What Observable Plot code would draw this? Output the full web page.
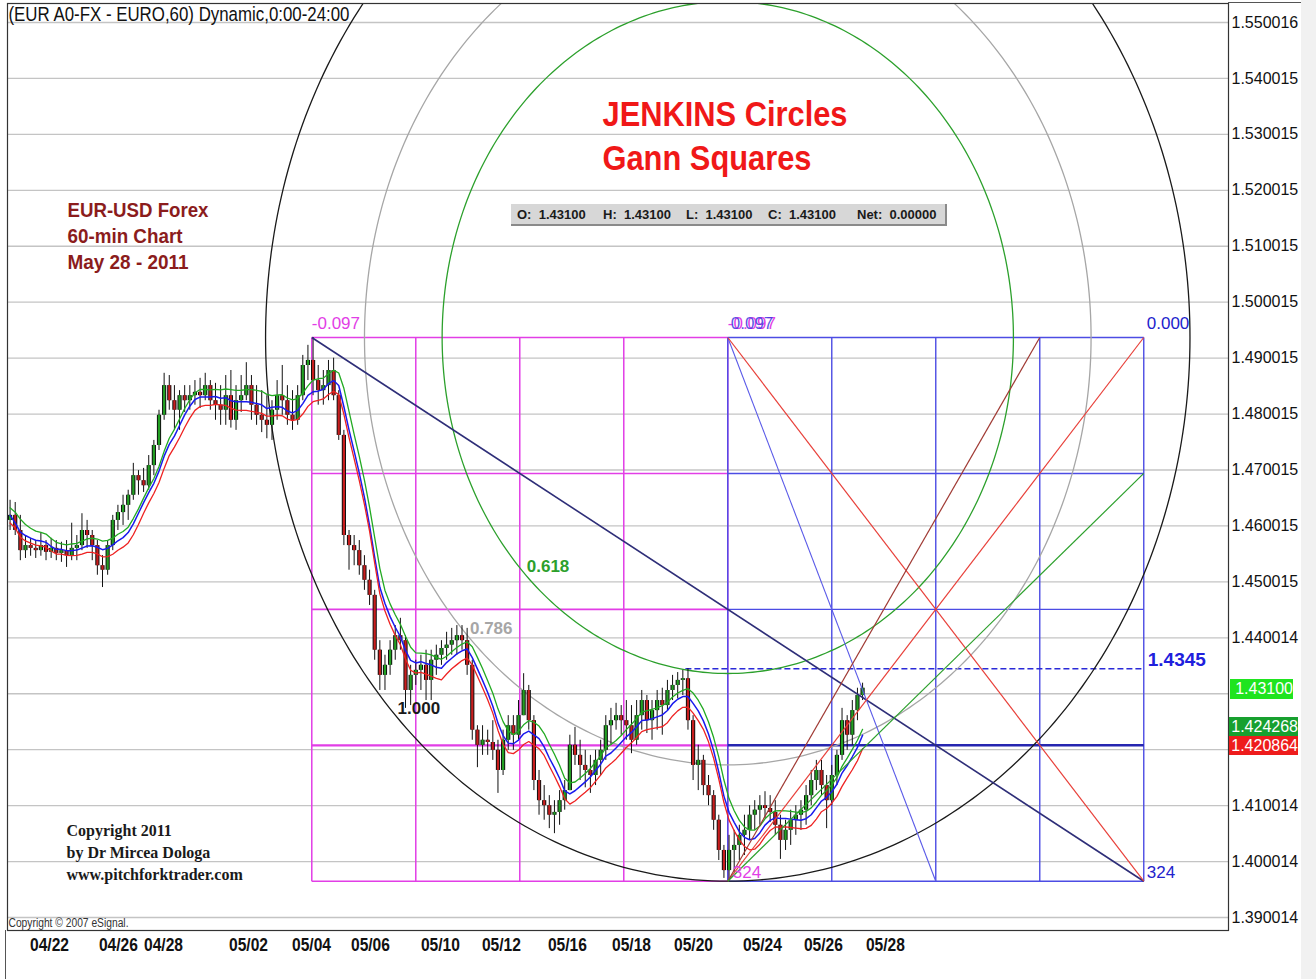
<!DOCTYPE html>
<html><head><meta charset="utf-8">
<script src="https://cdn.jsdelivr.net/npm/d3@7"></script>
<script src="https://cdn.jsdelivr.net/npm/@observablehq/plot@0.6"></script>
<style>
body{margin:0;background:#fff;}
#wrap{position:relative;width:1316px;height:979px;overflow:hidden;background:#fff;}
#wrap svg{position:absolute;left:0;top:0;}
.ov{position:absolute;font-family:"Liberation Sans",Arial,sans-serif;white-space:pre;}
</style></head><body><div id="wrap"></div>
<script>
// ---------- DATA ----------
// 4-hour candles of EUR/USD, 04/21 .. 05/27 2011
const candleHigh = [1.4646,1.4642,1.4619,1.4583,1.4578,1.4574,1.4588,1.4574,1.4578,1.4574,1.4571,1.4574,1.4605,1.4583,1.4622,1.4610,1.4592,1.4574,1.4547,1.4574,
1.4619,1.4637,1.4655,1.4664,1.4712,1.4699,1.4703,1.4726,1.4753,1.4807,1.4873,1.4869,1.4851,1.4842,1.4851,1.4851,1.4860,1.4864,1.4873,1.4860,
1.4855,1.4851,1.4869,1.4878,1.4851,1.4869,1.4892,1.4869,1.4851,1.4842,1.4833,1.4824,1.4860,1.4887,1.4851,1.4842,1.4851,1.4905,1.4923,1.4937,
1.4887,1.4878,1.4896,1.4900,1.4842,1.4771,1.4592,1.4583,1.4574,1.4547,1.4521,1.4485,1.4395,1.4369,1.4395,1.4422,1.4435,1.4404,1.4351,1.4360,
1.4369,1.4378,1.4378,1.4387,1.4395,1.4410,1.4417,1.4422,1.4422,1.4417,1.4360,1.4243,1.4243,1.4235,1.4252,1.4217,1.4235,1.4261,1.4261,1.4288,
1.4336,1.4315,1.4261,1.4163,1.4136,1.4118,1.4109,1.4127,1.4145,1.4226,1.4240,1.4217,1.4199,1.4190,1.4199,1.4217,1.4261,1.4274,1.4283,1.4279,
1.4288,1.4279,1.4288,1.4306,1.4297,1.4288,1.4306,1.4310,1.4324,1.4333,1.4338,1.4342,1.4345,1.4261,1.4208,1.4190,1.4154,1.4127,1.4083,1.4029,
1.4047,1.4056,1.4065,1.4083,1.4100,1.4109,1.4118,1.4125,1.4118,1.4109,1.4083,1.4074,1.4092,1.4100,1.4109,1.4136,1.4163,1.4181,1.4181,1.4154,
1.4172,1.4199,1.4274,1.4261,1.4288,1.4310,1.4319];
const candleLow = [1.4592,1.4583,1.4538,1.4542,1.4546,1.4542,1.4546,1.4538,1.4542,1.4538,1.4535,1.4526,1.4538,1.4538,1.4556,1.4560,1.4538,1.4512,1.4490,1.4512,
1.4556,1.4592,1.4601,1.4610,1.4646,1.4655,1.4660,1.4664,1.4690,1.4735,1.4789,1.4807,1.4771,1.4771,1.4803,1.4807,1.4816,1.4810,1.4824,1.4807,
1.4789,1.4780,1.4780,1.4775,1.4771,1.4803,1.4824,1.4789,1.4780,1.4767,1.4756,1.4753,1.4789,1.4798,1.4780,1.4771,1.4780,1.4824,1.4860,1.4833,
1.4816,1.4816,1.4824,1.4824,1.4753,1.4565,1.4521,1.4529,1.4512,1.4485,1.4458,1.4360,1.4306,1.4306,1.4333,1.4360,1.4378,1.4274,1.4279,1.4315,
1.4306,1.4288,1.4288,1.4333,1.4351,1.4360,1.4369,1.4369,1.4378,1.4333,1.4217,1.4168,1.4190,1.4190,1.4181,1.4122,1.4154,1.4199,1.4199,1.4217,
1.4261,1.4235,1.4127,1.4083,1.4074,1.4059,1.4050,1.4065,1.4092,1.4127,1.4172,1.4145,1.4132,1.4122,1.4136,1.4154,1.4181,1.4208,1.4235,1.4226,
1.4217,1.4193,1.4208,1.4235,1.4229,1.4217,1.4235,1.4226,1.4270,1.4288,1.4291,1.4297,1.4235,1.4145,1.4127,1.4118,1.4100,1.4056,1.4002,1.3970,
1.3965,1.3981,1.4002,1.4011,1.4038,1.4056,1.4065,1.4077,1.4070,1.4047,1.4004,1.4020,1.4029,1.4047,1.4056,1.4065,1.4100,1.4127,1.4118,1.4059,
1.4100,1.4136,1.4181,1.4199,1.4208,1.4252,1.4288];
const candleClose = [1.4619,1.4592,1.4556,1.4565,1.4560,1.4556,1.4565,1.4553,1.4560,1.4551,1.4556,1.4547,1.4560,1.4565,1.4592,1.4583,1.4565,1.4529,1.4521,1.4565,
1.4610,1.4624,1.4637,1.4655,1.4690,1.4681,1.4672,1.4708,1.4744,1.4798,1.4851,1.4824,1.4807,1.4833,1.4824,1.4833,1.4839,1.4833,1.4851,1.4824,
1.4816,1.4807,1.4833,1.4789,1.4824,1.4833,1.4851,1.4816,1.4798,1.4789,1.4780,1.4807,1.4833,1.4824,1.4798,1.4789,1.4833,1.4887,1.4896,1.4860,
1.4842,1.4851,1.4878,1.4833,1.4762,1.4583,1.4565,1.4556,1.4529,1.4503,1.4476,1.4378,1.4333,1.4351,1.4378,1.4404,1.4395,1.4306,1.4333,1.4342,
1.4351,1.4324,1.4360,1.4369,1.4381,1.4387,1.4395,1.4404,1.4395,1.4351,1.4235,1.4208,1.4217,1.4213,1.4199,1.4163,1.4217,1.4243,1.4226,1.4261,
1.4306,1.4252,1.4145,1.4109,1.4100,1.4083,1.4088,1.4109,1.4127,1.4208,1.4190,1.4172,1.4163,1.4154,1.4181,1.4199,1.4243,1.4252,1.4261,1.4252,
1.4243,1.4217,1.4261,1.4288,1.4252,1.4270,1.4288,1.4279,1.4306,1.4315,1.4324,1.4327,1.4252,1.4172,1.4181,1.4136,1.4118,1.4074,1.4020,1.3984,
1.4020,1.4029,1.4047,1.4056,1.4083,1.4092,1.4100,1.4095,1.4088,1.4065,1.4038,1.4056,1.4074,1.4083,1.4092,1.4118,1.4145,1.4163,1.4136,1.4109,
1.4154,1.4190,1.4252,1.4226,1.4270,1.4297,1.4310];
const firstOpen = 1.4610;
const hoursPerCandle = 4;

// time axis (hour-bar positions of the date labels)
const dateLabels = ["04/22","04/26","04/28","05/02","05/04","05/06","05/10","05/12","05/16","05/18","05/20","05/24","05/26","05/28"];
const dateBars   = [32.7, 86.4, 121.5, 187.7, 236.8, 282.7, 337.2, 384.7, 436.1, 486.0, 534.3, 588.0, 635.5, 683.8];

// price axis
const priceTicks  = [1.550016,1.540015,1.530015,1.520015,1.510015,1.500015,1.490015,1.480015,1.470015,1.460015,1.450015,1.440014,1.430014,1.420014,1.410014,1.400014,1.390014];
const priceLabels = ["1.550016","1.540015","1.530015","1.520015","1.510015","1.500015","1.490015","1.480015","1.470015","1.460015","1.450015","1.440014","","","1.410014","1.400014","1.390014"];

// last-value tags on the price axis
const lastLabels = ["1.43100","1.424268","1.420864"];
const lastValues = [1.431, 1.424268, 1.420864];
const lastColors = ["#1fe41f","#17a02f","#ee1c1c"];

// Gann squares & Jenkins circles
const gannStartBar = 237, gannSideBars = 324, gannHigh = 1.4937, gannLow = 1.3965;
const circleRadiusBars = 360;
const fibRatios = [1, 0.786, 0.618];
const fibLabels = ["1.000","0.786","0.618"];
const fibColors = ["#1a1a1a","#a6a6a6","#2ca02c"];
const targetLevel = 1.4345, targetStartBar = 528;

const ohlcItems = ["O:  1.43100","H:  1.43100","L:  1.43100","C:  1.43100","Net:  0.00000"];

// ---------- BUILD ----------
const W = 1316, H = 979, mL = 7, mR = 88, mT = 3, mB = 49;
const xDomain = [0, 951];
const yDomain = [1.38769, 1.55341];
const SANS = "'Liberation Sans',Arial,sans-serif";
const SERIF = "'Liberation Serif','Times New Roman',serif";

const candles = candleClose.map((c, i) => ({
  bar: i * hoursPerCandle + hoursPerCandle / 2,
  open: i === 0 ? firstOpen : candleClose[i - 1],
  high: candleHigh[i], low: candleLow[i], close: c
}));

const range = gannHigh - gannLow;
const s1 = gannStartBar, s2 = gannStartBar + gannSideBars, s3 = gannStartBar + 2 * gannSideBars;
const q = [0, 0.25, 0.5, 0.75, 1];
const magV = q.map(f => ({x1: s1 + f * gannSideBars, x2: s1 + f * gannSideBars, y1: gannLow, y2: gannHigh}));
const bluV = q.map(f => ({x1: s2 + f * gannSideBars, x2: s2 + f * gannSideBars, y1: gannLow, y2: gannHigh}));
const magH = q.map(f => ({x1: s1, x2: s2, y1: gannLow + f * range, y2: gannLow + f * range, w: f === 0.25 ? 2.2 : 1.6}));
const bluH = q.map(f => ({x1: s2, x2: s3, y1: gannLow + f * range, y2: gannLow + f * range, w: f === 0.25 ? 2.4 : 1.4, c: f === 0.25 ? "#2626b0" : "#4c4ce4"}));
const diagonals = [
  {x1: s1, y1: gannHigh, x2: s3, y2: gannLow, c: "#2e2e78", w: 1.6},
  {x1: s2, y1: gannHigh, x2: s2 + gannSideBars / 2, y2: gannLow, c: "#5a5ae8", w: 1.1},
  {x1: s2, y1: gannHigh, x2: s3, y2: gannLow, c: "#e8403a", w: 1.2},
  {x1: s2, y1: gannLow, x2: s3, y2: gannHigh, c: "#e8403a", w: 1.2},
  {x1: s2, y1: gannLow, x2: s2 + gannSideBars * 0.75, y2: gannHigh, c: "#a03a34", w: 1.2},
  {x1: s2, y1: gannLow, x2: s3, y2: gannLow + 0.75 * range, c: "#2ca02c", w: 1.2}
];

const ellipse = [];
fibRatios.forEach((k, j) => {
  for (let a = 0; a <= 360; a += 1) {
    const t = a * Math.PI / 180;
    ellipse.push({j, x: s2 + circleRadiusBars * k * Math.cos(t), y: gannHigh + range * k * Math.sin(t), c: fibColors[j]});
  }
});
const labAngle = 0.75;
const fibText = fibRatios.map((k, j) => ({
  x: s2 - circleRadiusBars * k * Math.cos(labAngle),
  y: gannHigh - range * k * Math.sin(labAngle),
  t: fibLabels[j], c: fibColors[j]
}));

function note(text, px, py, o) {
  return Plot.text([text], Object.assign({frameAnchor: "top-left", dx: px - mL, dy: py - mT, text: d => d, lineAnchor: "middle", textAnchor: "start"}, o));
}

const chart = Plot.plot({
  width: W, height: H, marginLeft: mL, marginRight: mR, marginTop: mT, marginBottom: mB,
  x: {domain: xDomain, axis: null},
  y: {domain: yDomain, axis: null},
  style: {background: "transparent", fontFamily: SANS},
  marks: [
    // grid
    Plot.ruleY(priceTicks, {stroke: "#c4c4c4", strokeWidth: 1.3}),
    // Gann squares
    Plot.link(magV, {x1: "x1", x2: "x2", y1: "y1", y2: "y2", stroke: "#e23ee6", strokeWidth: 1.5}),
    Plot.link(magH, {x1: "x1", x2: "x2", y1: "y1", y2: "y2", stroke: "#e23ee6", strokeWidth: "w"}),
    Plot.link(bluV, {x1: "x1", x2: "x2", y1: "y1", y2: "y2", stroke: "#4c4ce4", strokeWidth: 1.4}),
    Plot.link(bluH, {x1: "x1", x2: "x2", y1: "y1", y2: "y2", stroke: "c", strokeWidth: "w"}),
    Plot.link([{x1: targetStartBar, x2: s3, y: targetLevel}], {x1: "x1", x2: "x2", y1: "y", y2: "y", stroke: "#2a2ad8", strokeWidth: 1.5, strokeDasharray: "6,3"}),
    // Jenkins circles
    Plot.line(ellipse, {x: "x", y: "y", z: "j", stroke: "c", strokeWidth: 1.3, clip: true}),
    // candles
    Plot.ruleX(candles, {x: "bar", y1: "low", y2: "high", stroke: "#111", strokeWidth: 1}),
    Plot.ruleX(candles, {x: "bar", y1: "open", y2: "close", stroke: "#111", strokeWidth: 4.2}),
    Plot.ruleX(candles, {x: "bar", y1: "open", y2: "close", stroke: d => d.close >= d.open ? "#23a023" : "#c81e1e", strokeWidth: 2.2}),
    // moving averages
    Plot.line(candles, Plot.windowY({k: 8, anchor: "end", reduce: "mean"}, {x: "bar", y: d => (d.high + d.close) / 2, stroke: "#22aa22", strokeWidth: 1.3})),
    Plot.line(candles, Plot.windowY({k: 8, anchor: "end", reduce: "mean"}, {x: "bar", y: "close", stroke: "#1a1aee", strokeWidth: 1.5})),
    Plot.line(candles, Plot.windowY({k: 8, anchor: "end", reduce: "mean"}, {x: "bar", y: d => (d.low + d.close) / 2, stroke: "#ee2222", strokeWidth: 1.3})),
    // diagonals
    Plot.link(diagonals, {x1: "x1", y1: "y1", x2: "x2", y2: "y2", stroke: "c", strokeWidth: "w"}),
    // Gann labels
    Plot.text([{x: s1, y: gannHigh, t: "-0.097"}], {x: "x", y: "y", text: "t", dy: -14, textAnchor: "start", fill: "#e23ee6", fontSize: 17, fontFamily: SANS}),
    Plot.text([{x: s2, y: gannHigh, t: "-0.097"}], {x: "x", y: "y", text: "t", dy: -14, textAnchor: "start", fill: "#e23ee6", fontSize: 17, fontFamily: SANS}),
    Plot.text([{x: s2, y: gannHigh, t: "0.097"}], {x: "x", y: "y", text: "t", dx: 3, dy: -14, textAnchor: "start", fill: "#3a3ae0", fontSize: 17, fontFamily: SANS, fillOpacity: 0.85}),
    Plot.text([{x: s3, y: gannHigh, t: "0.000"}], {x: "x", y: "y", text: "t", dx: 3, dy: -14, textAnchor: "start", fill: "#2222cc", fontSize: 17, fontFamily: SANS}),
    Plot.text([{x: s2, y: gannLow, t: "324"}], {x: "x", y: "y", text: "t", dx: 5, dy: -9, textAnchor: "start", fill: "#e23ee6", fontSize: 17, fontFamily: SANS}),
    Plot.text([{x: s3, y: gannLow, t: "324"}], {x: "x", y: "y", text: "t", dx: 3, dy: -9, textAnchor: "start", fill: "#2222cc", fontSize: 17, fontFamily: SANS}),
    Plot.text([{x: s3, y: targetLevel, t: "1.4345"}], {x: "x", y: "y", text: "t", dx: 4, dy: -9, textAnchor: "start", fill: "#2020dd", fontSize: 19, fontWeight: "bold", fontFamily: SANS}),
    Plot.text(fibText, {x: "x", y: "y", text: "t", fill: "c", dx: 8, textAnchor: "start", fontSize: 17, fontWeight: "bold", fontFamily: SANS}),
    // frame
    Plot.frame({stroke: "#333", strokeWidth: 1.2}),
    // axes as text
    Plot.text(priceTicks.map((v, i) => ({v, t: priceLabels[i]})), {y: "v", text: "t", frameAnchor: "right", textAnchor: "start", dx: 3, fontSize: 16, fill: "#111", fontFamily: SANS}),
    Plot.text(dateBars.map((b, i) => ({b, t: dateLabels[i]})), {x: "b", text: "t", frameAnchor: "bottom", dy: 20, fontSize: 17.5, fontWeight: "bold", fill: "#111", fontFamily: SANS}),
    // annotations
    note("(EUR A0-FX - EURO,60) Dynamic,0:00-24:00", 8, 14, {fontSize: 20.5, fill: "#111", fontFamily: SANS}),
    note("JENKINS Circles", 602, 114, {fontSize: 35, fontWeight: "bold", fill: "#f01818", fontFamily: SANS}),
    note("Gann Squares", 602, 158, {fontSize: 35, fontWeight: "bold", fill: "#f01818", fontFamily: SANS}),
    note("EUR-USD Forex", 67, 210, {fontSize: 21, fontWeight: "bold", fill: "#8b1c1c", fontFamily: SANS}),
    note("60-min Chart", 67, 236, {fontSize: 21, fontWeight: "bold", fill: "#8b1c1c", fontFamily: SANS}),
    note("May 28 - 2011", 67, 262, {fontSize: 21, fontWeight: "bold", fill: "#8b1c1c", fontFamily: SANS}),
    note("Copyright 2011", 66, 830, {fontSize: 16, fontWeight: "bold", fill: "#1a1a1a", fontFamily: SERIF}),
    note("by Dr Mircea Dologa", 66, 852, {fontSize: 16, fontWeight: "bold", fill: "#1a1a1a", fontFamily: SERIF}),
    note("www.pitchforktrader.com", 66, 874, {fontSize: 16, fontWeight: "bold", fill: "#1a1a1a", fontFamily: SERIF}),
    note("Copyright \u00a9 2007 eSignal.", 8, 922, {fontSize: 12.5, fill: "#333", fontFamily: SANS})
  ]
});

const wrap = document.getElementById("wrap");
wrap.appendChild(chart);

// condensed look (the original uses a narrow typeface): squeeze these texts to their widths
const narrowWidths = new Map([
  ["(EUR A0-FX - EURO,60) Dynamic,0:00-24:00", 341], ["JENKINS Circles", 245], ["Gann Squares", 209],
  ["EUR-USD Forex", 141], ["60-min Chart", 115], ["May 28 - 2011", 121], ["Copyright \u00a9 2007 eSignal.", 120]
]);
dateLabels.forEach(l => narrowWidths.set(l, 39));
d3.select(chart).selectAll("text").each(function () {
  const w = narrowWidths.get(this.textContent);
  if (w) { this.setAttribute("textLength", w); this.setAttribute("lengthAdjust", "spacingAndGlyphs"); }
});

// extras of the eSignal window
function block(css) { const d = document.createElement("div"); d.className = "ov"; Object.assign(d.style, css); wrap.appendChild(d); return d; }
block({left: "1301px", top: "0px", width: "15px", height: "979px", background: "#f1f1f1"});
block({left: "1228px", top: "2px", width: "73px", height: "1px", background: "#555"});
block({left: "5px", top: "930px", width: "1px", height: "49px", background: "#555"});

// last-value tags positioned through the y scale
const ys = chart.scale("y");
lastValues.forEach((v, i) => {
  const yy = ys.apply(v);
  const d = block({left: i === 0 ? "1230px" : "1229px", top: (yy - 8.5) + "px", width: i === 0 ? "63px" : "69px",
    height: i === 0 ? "20px" : "19px", lineHeight: i === 0 ? "20px" : "19px", background: lastColors[i], color: "#fff",
    fontSize: "16px", textAlign: "right", boxSizing: "border-box", overflow: "hidden"});
  d.textContent = lastLabels[i];
});

// OHLC info box
const box = block({left: "511px", top: "204px", width: "436px", height: "22px", background: "#d7d7d7",
  borderRight: "2px solid #8a8a8a", borderBottom: "2px solid #8a8a8a", boxSizing: "border-box"});
const ohlcLeft = [6, 92, 175, 257, 346];
ohlcItems.forEach((t, i) => {
  const s = document.createElement("span");
  s.className = "ov";
  Object.assign(s.style, {left: ohlcLeft[i] + "px", top: "3px", fontSize: "13px", fontWeight: "bold", color: "#1a1a1a"});
  s.textContent = t;
  box.appendChild(s);
});
</script></body></html>
